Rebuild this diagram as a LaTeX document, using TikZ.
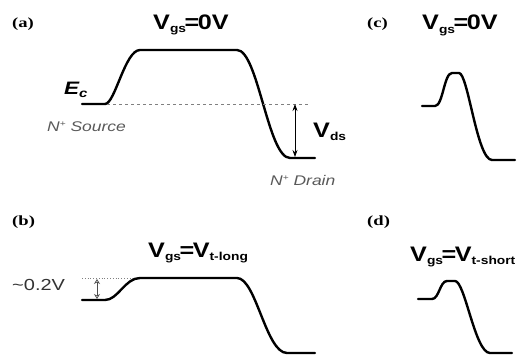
\documentclass[tikz,border=0pt]{standalone}
\usepackage{fontspec}
\setmainfont{Liberation Sans}
\newfontfamily\tfont[FakeStretch=1.2]{Liberation Sans}
\newfontfamily\nfont[FakeStretch=1.25]{Liberation Sans}
\newfontfamily\lfont[FakeStretch=1.33]{Liberation Serif}
\usetikzlibrary{arrows.meta}
\newcommand{\mysub}[1]{\raisebox{-3pt}{\fontsize{11.5}{12}\selectfont #1}}
\newcommand{\myeq}{\kern-1.5pt=\kern-1.5pt}
\newcommand{\mysup}[1]{\raisebox{5pt}{\fontsize{8}{8}\selectfont #1}}
\tikzset{
  band/.style={line width=2.4pt, line cap=round, line join=round},
  title/.style={font=\tfont\bfseries\fontsize{21}{22}\selectfont, inner sep=0pt, anchor=base west},
  plabel/.style={font=\lfont\bfseries\fontsize{14}{14}\selectfont, inner sep=0pt, anchor=west},
  note/.style={font=\nfont\itshape\fontsize{14}{14}\selectfont, text=black!65, inner sep=0pt, anchor=west},
  guide/.style={black!50, line width=0.8pt},
}
\begin{document}
\begin{tikzpicture}[x=1pt,y=-1pt]
\useasboundingbox (0,0) rectangle (520,356);
% panel labels
\node[plabel] (la) at (12,24) {(a)};
\node[plabel] (lb) at (12,222) {(b)};
\node[plabel] (lc) at (367,24) {(c)};
\node[plabel] (ld) at (367,222) {(d)};
% titles
\node[title] (ta) at (153,29) {V\mysub{gs}\myeq 0V};
\node[title] (tc) at (422,30) {V\mysub{gs}\myeq 0V};
\node[title] (tb) at (148,257) {V\mysub{gs}\myeq V\mysub{t-long}};
\node[title] (td) at (410,261) {V\mysub{gs}\myeq V\mysub{t-short}};
% texts of (a)
\node[font=\nfont\bfseries\itshape\fontsize{18}{18}\selectfont, inner sep=0pt, anchor=base west] (ec) at (64,94) {E\raisebox{-3pt}{\fontsize{12}{12}\selectfont c}};
\node[note] (src) at (47,127) {N\mysup{+} Source};
\node[note] (drn) at (270,180) {N\mysup{+} Drain};
\node[title] (vds) at (313,137) {V\mysub{ds}};
\node[font=\nfont\fontsize{16}{16}\selectfont, text=black!80, inner sep=0pt, anchor=west] (v02) at (12,285) {\textasciitilde0.2V};
% band curves
\draw[band] (82,104) -- (105,104) .. controls (115,104) and (125,50) .. (140,50) -- (237,50) .. controls (258,50) and (268,158) .. (290,158) -- (315,158);
\draw[band] (82,300) -- (105,300) .. controls (118,300) and (125,278) .. (140,278) -- (237,278) .. controls (256,278) and (266,353) .. (287,353) -- (315,353);
\draw[band] (422,106) -- (435,106) .. controls (443,106) and (444,73) .. (452,73) -- (459,73) .. controls (468,73) and (477,160) .. (492,160) -- (515,160);
\draw[band] (418,299) -- (432,299) .. controls (439,299) and (440,281) .. (447,281) -- (455,281) .. controls (465,281) and (475,353) .. (490,353) -- (512,353);
% guides
\coordinate (dl) at (107,104);
\coordinate (dr) at (308,104);
\draw[guide, dash pattern=on 3pt off 3pt] (dl) -- (dr);
\coordinate (vt) at (295,104);
\coordinate (vb) at (295,157);
\draw[line width=0.8pt, {Stealth[length=7pt,width=5pt]}-{Stealth[length=7pt,width=5pt]}] (vt) -- (vb);
\coordinate (ol) at (82,278);
\coordinate (or) at (134,278);
\draw[guide, dotted] (ol) -- (or);
\coordinate (st) at (97,279);
\coordinate (sb) at (97,299);
\draw[line width=0.6pt, black!70, {Stealth[length=5pt,width=6pt,open]}-{Stealth[length=5pt,width=6pt,open]}] (st) -- (sb);
\end{tikzpicture}
\end{document}
